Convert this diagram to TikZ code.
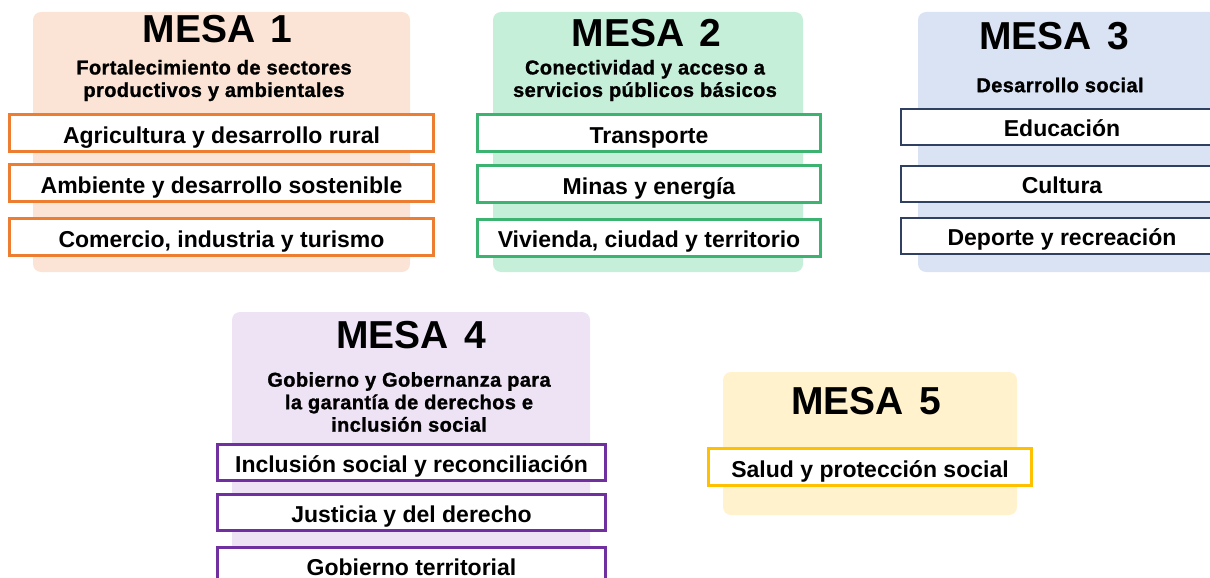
\documentclass[tikz,border=0pt]{standalone}
\usepackage{fontspec}
\setmainfont{Liberation Sans}
\newfontfamily\lemafont{Liberation Sans}[LetterSpace=2,FakeBold=1.2]
\definecolor{fondouno}{HTML}{FBE4D5}
\definecolor{lineauno}{HTML}{ED7D31}
\definecolor{fondodos}{HTML}{C6EFDA}
\definecolor{lineados}{HTML}{3CB371}
\definecolor{fondotres}{HTML}{DAE3F3}
\definecolor{lineatres}{HTML}{2F4061}
\definecolor{fondocuatro}{HTML}{EEE2F5}
\definecolor{lineacuatro}{HTML}{7030A0}
\definecolor{fondocinco}{HTML}{FFF2CC}
\definecolor{lineacinco}{HTML}{FFC000}

\begin{document}
\begin{tikzpicture}[x=1pt,y=-1pt,
  panel/.style={rounded corners=8pt,inner sep=0pt},
  mesa/.style={inner sep=0pt,font=\fontsize{39}{39}\selectfont\bfseries},
  lema/.style={inner sep=0pt,align=center,font={\lemafont\bfseries\fontsize{20}{22.5}\selectfont}},
  tema/.style={line width=3pt,fill=white,minimum height=37pt,inner sep=0pt,
    text height=20pt,text depth=0pt,font=\fontsize{23}{23}\selectfont\bfseries}]
  \useasboundingbox (0,0) rectangle (1210,578);
  \clip (0,0) rectangle (1210,578);
  % fondos de las mesas
  \node[panel,fill=fondouno,minimum width=377pt,minimum height=260pt] (m1) at (221.5,142) {};
  \node[panel,fill=fondodos,minimum width=310pt,minimum height=260pt] (m2) at (648,142) {};
  \node[panel,fill=fondotres,minimum width=302pt,minimum height=260pt] (m3) at (1069,142) {};
  \node[panel,fill=fondocuatro,minimum width=358pt,minimum height=288pt] (m4) at (411,456) {};
  \node[panel,fill=fondocinco,minimum width=294pt,minimum height=143pt] (m5) at (870,443.5) {};
  % titulos
  \node[mesa] (t1) at (217.5,29) {MESA\hspace{0.4em}1};
  \node[mesa] (t2) at (646.5,33) {MESA\hspace{0.4em}2};
  \node[mesa] (t3) at (1054,36) {MESA\hspace{0.4em}3};
  \node[mesa] (t4) at (411,335) {MESA\hspace{0.4em}4};
  \node[mesa] (t5) at (866,401) {MESA\hspace{0.4em}5};
  \node[lema] (s1) at (214,80.5) {Fortalecimiento de sectores\\productivos y ambientales};
  \node[lema] (s2) at (645,80.5) {Conectividad y acceso a\\servicios públicos básicos};
  \node[lema] (s3) at (1060,85) {Desarrollo social};
  \node[lema] (s4) at (409,402) {Gobierno y Gobernanza para\\la garantía de derechos e\\inclusión social};
  % temas
  \foreach \y/\t [count=\i] in {133/{Agricultura y desarrollo rural},183/{Ambiente y desarrollo sostenible},237/{Comercio, industria y turismo}}
    \node[tema,draw=lineauno,minimum width=424pt] (a\i) at (221.5,\y) {\t};
  \foreach \y/\t [count=\i] in {133/{Transporte},184/{Minas y energía},237.5/{Vivienda, ciudad y territorio}}
    \node[tema,draw=lineados,minimum width=343pt] (b\i) at (649,\y) {\t};
  \foreach \y/\t [count=\i] in {126.5/{Educación},183.5/{Cultura},235.5/{Deporte y recreación}}
    \node[tema,draw=lineatres,line width=2pt,minimum width=322pt,minimum height=36pt] (c\i) at (1062,\y) {\t};
  \foreach \y/\t [count=\i] in {462.5/{Inclusión social y reconciliación},512.5/{Justicia y del derecho},565/{Gobierno territorial}}
    \node[tema,draw=lineacuatro,minimum width=388pt,minimum height=36pt] (d\i) at (411.5,\y) {\t};
  \node[tema,draw=lineacinco,minimum width=323pt] (e1) at (870,467) {Salud y protección social};
\end{tikzpicture}
\end{document}
